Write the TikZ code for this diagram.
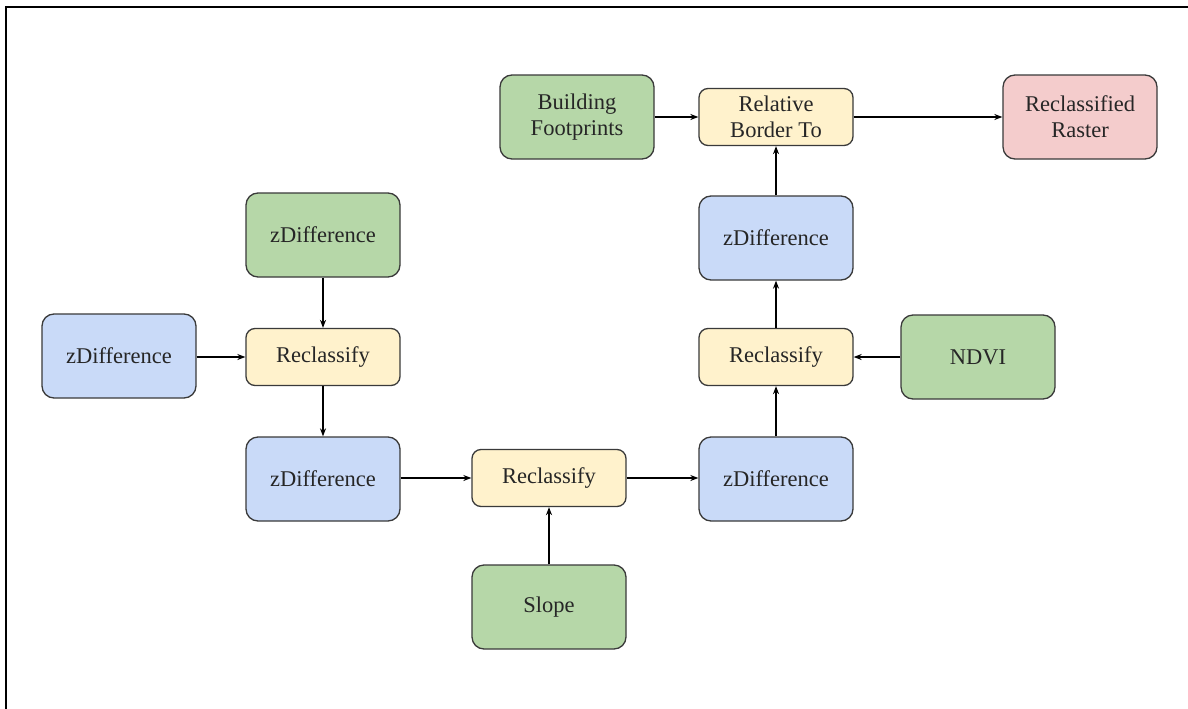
\documentclass[tikz,border=0pt]{standalone}
\usepackage{fontspec}
\setmainfont{Liberation Serif}
\newfontfamily\boxfont{Liberation Serif}
\usetikzlibrary{arrows.meta}
\definecolor{gfill}{HTML}{B6D7A8}
\definecolor{bfill}{HTML}{C9DAF8}
\definecolor{yfill}{HTML}{FFF2CC}
\definecolor{rfill}{HTML}{F4CCCC}
\definecolor{edge}{HTML}{3A3A3A}
\tikzset{
  box/.style={draw=edge, line width=1.3pt, minimum width=154pt, inner sep=0pt, align=center,
    font=\boxfont\fontsize{22.5}{26}\selectfont, text=black!85},
  bigbox/.style={box, minimum height=84pt, rounded corners=12pt},
  smallbox/.style={box, minimum height=57pt, rounded corners=9pt},
  greenbox/.style={bigbox, fill=gfill},
  bluebox/.style={bigbox, fill=bfill},
  redbox/.style={bigbox, fill=rfill},
  yellowbox/.style={smallbox, fill=yfill},
  conn/.style={draw=black, line width=1.3pt, -{Stealth[length=8pt,width=6pt]}}
}
\begin{document}
\begin{tikzpicture}[x=1pt,y=-1pt]
\useasboundingbox (0,0) rectangle (1188,709);
\fill[white] (0,0) rectangle (1188,709);
\draw[line width=2.2pt, black] (6,709) -- (6,7) -- (1188,7);

\node[greenbox]  (bf)  at (577,117) {Building\\Footprints};
\node[yellowbox] (rbt) at (776,117) {Relative\\Border To};
\node[redbox]    (rr)  at (1080,117) {Reclassified\\Raster};
\node[bluebox]   (zd4) at (776,238) {zDifference};
\node[yellowbox] (rc3) at (776,357) {Reclassify};
\node[greenbox]  (ndvi) at (978,357) {NDVI};
\node[bluebox]   (zd3) at (776,479) {zDifference};
\node[yellowbox] (rc2) at (549,478) {Reclassify};
\node[greenbox]  (slope) at (549,607) {Slope};
\node[bluebox]   (zd2) at (323,479) {zDifference};
\node[yellowbox] (rc1) at (323,357) {Reclassify};
\node[greenbox]  (zdg) at (323,235) {zDifference};
\node[bluebox]   (zd1) at (119,356) {zDifference};

\draw[conn] (bf) -- (rbt);
\draw[conn] (rbt) -- (rr);
\draw[conn] (zd4) -- (rbt);
\draw[conn] (rc3) -- (zd4);
\draw[conn] (ndvi) -- (rc3);
\draw[conn] (zd3) -- (rc3);
\draw[conn] (rc2.east) -- (zd3.west |- rc2.east);
\draw[conn] (slope) -- (rc2);
\draw[conn] (zd2.east |- rc2.west) -- (rc2.west);
\draw[conn] (rc1) -- (zd2);
\draw[conn] (zdg) -- (rc1);
\draw[conn] (zd1.east |- rc1.west) -- (rc1.west);
\end{tikzpicture}
\end{document}
